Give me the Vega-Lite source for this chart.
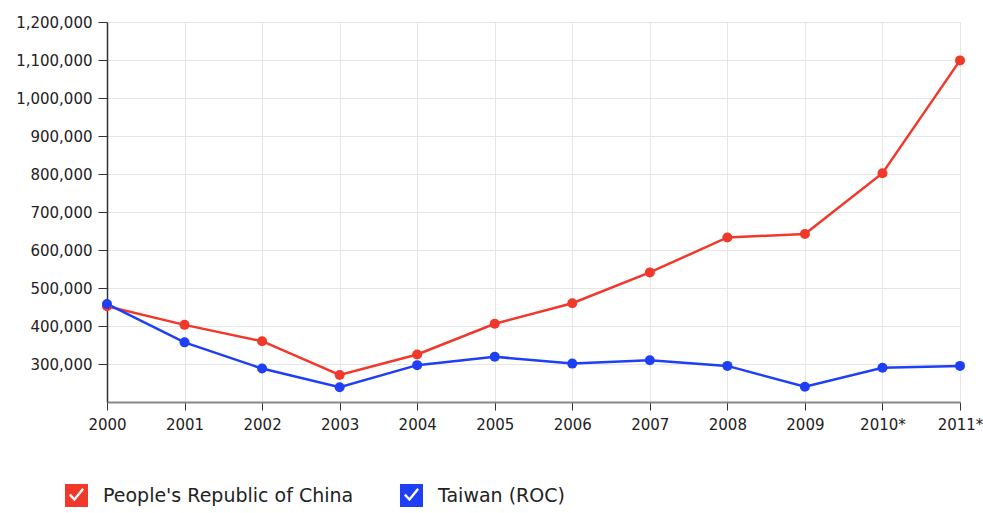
{
  "$schema": "https://vega.github.io/schema/vega-lite/v6.json",
  "autosize": {"type": "none"},
  "width": 853,
  "height": 380,
  "padding": {"left": 107, "top": 22, "right": 23, "bottom": 111},
  "background": "white",
  "config": {
    "view": {"stroke": null},
    "font": "DejaVu Sans"
  },
  "data": {
    "values": [
      {"year": "2000", "country": "People's Republic of China", "value": 452000},
      {"year": "2001", "country": "People's Republic of China", "value": 403000},
      {"year": "2002", "country": "People's Republic of China", "value": 360000},
      {"year": "2003", "country": "People's Republic of China", "value": 271000},
      {"year": "2004", "country": "People's Republic of China", "value": 325000},
      {"year": "2005", "country": "People's Republic of China", "value": 406000},
      {"year": "2006", "country": "People's Republic of China", "value": 460000},
      {"year": "2007", "country": "People's Republic of China", "value": 541000},
      {"year": "2008", "country": "People's Republic of China", "value": 633000},
      {"year": "2009", "country": "People's Republic of China", "value": 642000},
      {"year": "2010*", "country": "People's Republic of China", "value": 802000},
      {"year": "2011*", "country": "People's Republic of China", "value": 1099000},
      {"year": "2000", "country": "Taiwan (ROC)", "value": 458000},
      {"year": "2001", "country": "Taiwan (ROC)", "value": 357000},
      {"year": "2002", "country": "Taiwan (ROC)", "value": 288000},
      {"year": "2003", "country": "Taiwan (ROC)", "value": 239000},
      {"year": "2004", "country": "Taiwan (ROC)", "value": 297000},
      {"year": "2005", "country": "Taiwan (ROC)", "value": 319000},
      {"year": "2006", "country": "Taiwan (ROC)", "value": 301000},
      {"year": "2007", "country": "Taiwan (ROC)", "value": 310000},
      {"year": "2008", "country": "Taiwan (ROC)", "value": 295000},
      {"year": "2009", "country": "Taiwan (ROC)", "value": 240000},
      {"year": "2010*", "country": "Taiwan (ROC)", "value": 290000},
      {"year": "2011*", "country": "Taiwan (ROC)", "value": 295000}
    ]
  },
  "mark": {"type": "line", "strokeWidth": 2.5, "point": {"filled": true, "size": 100}},
  "encoding": {
    "x": {
      "field": "year",
      "type": "ordinal",
      "scale": {"type": "point", "padding": 0, "domain": ["2000","2001","2002","2003","2004","2005","2006","2007","2008","2009","2010*","2011*"]},
      "axis": {
        "title": null,
        "labelAngle": 0,
        "labelFontSize": 15,
        "labelColor": "#222",
        "labelPadding": 7,
        "tickSize": 8,
        "tickColor": "#333",
        "domainColor": "#888",
        "domainWidth": 2,
        "grid": true,
        "gridColor": "#e6e6e6",
        "gridWidth": 1
      }
    },
    "y": {
      "field": "value",
      "type": "quantitative",
      "scale": {"domain": [200000, 1200000], "nice": false, "zero": false},
      "axis": {
        "title": null,
        "values": [300000,400000,500000,600000,700000,800000,900000,1000000,1100000,1200000],
        "format": ",d",
        "labelFontSize": 15,
        "labelColor": "#222",
        "labelPadding": 6,
        "tickSize": 9,
        "tickColor": "#333",
        "domainColor": "#333",
        "domainWidth": 1.5,
        "grid": true,
        "gridColor": "#e6e6e6",
        "gridWidth": 1
      }
    },
    "color": {
      "field": "country",
      "type": "nominal",
      "scale": {"domain": ["People's Republic of China", "Taiwan (ROC)"], "range": ["#f0392b", "#1e3ff5"]},
      "legend": {
        "title": null,
        "orient": "none",
        "direction": "horizontal",
        "legendX": -42,
        "legendY": 462,
        "padding": 0,
        "symbolType": "M-1,-1L1,-1L1,1L-1,1L-1,-1Z M-0.65,0L-0.18,0.5L0.65,-0.5L0.5,-0.65L-0.18,0.2L-0.5,-0.15Z",
        "symbolSize": 529,
        "symbolStrokeWidth": 0,
        "labelFontSize": 19,
        "labelLimit": 500,
        "labelColor": "#222",
        "labelOffset": 15,
        "columnPadding": 46,
        "encode": {
          "symbols": {"update": {"fill": {"scale": "color", "field": "value"}, "strokeWidth": {"value": 0}, "opacity": {"value": 1}}}
        }
      }
    }
  }
}
